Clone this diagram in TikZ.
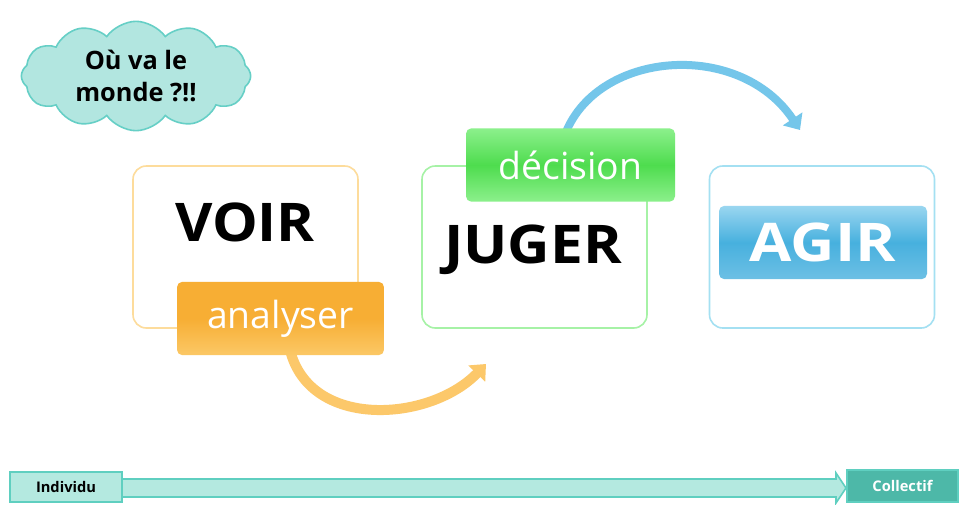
\documentclass[tikz,border=0pt]{standalone}
\usepackage{fontspec}
\setmainfont{Open Sans}
\usetikzlibrary{shapes.symbols,arrows.meta,shadings}
\definecolor{cloudfill}{HTML}{B2E6E0}
\definecolor{clouddraw}{HTML}{66CFC6}
\definecolor{orborder}{HTML}{FDDC9C}
\definecolor{orA}{HTML}{F7AE34}
\definecolor{orB}{HTML}{FBC866}
\definecolor{orArrow}{HTML}{FCC86A}
\definecolor{grborder}{HTML}{A6F2A6}
\definecolor{grA}{HTML}{4EDC4E}
\definecolor{grB}{HTML}{8CF08C}
\definecolor{blborder}{HTML}{A4E0F2}
\definecolor{blA}{HTML}{47B0DE}
\definecolor{blB}{HTML}{9AD6F0}
\definecolor{blArrow}{HTML}{74C6EA}
\definecolor{tealA}{HTML}{5FCFC0}
\definecolor{tealL}{HTML}{B4E9E0}
\definecolor{tealD}{HTML}{4DB8A8}
\tikzset{
  x=0.75pt, y=-0.75pt,
  bigbox/.style={draw, line width=1.2pt, rounded corners=10pt, minimum width=168.75pt, minimum height=121.5pt, inner sep=0pt, fill=white},
  tagbox/.style={rounded corners=4pt, minimum height=55pt, inner sep=0pt, text=white, font=\fontsize{28}{32}\selectfont},
  bigword/.style={font=\bfseries\fontsize{40}{44}\selectfont, inner sep=0pt},
  barbox/.style={draw=tealA, line width=1.2pt, inner sep=0pt, minimum width=84pt, minimum height=22.5pt, font=\bfseries\fontsize{11}{13}\selectfont},
  curvearrow/.style={line width=#1, -{Triangle[length=10pt, width=17pt]}},
}
\begin{document}
\begin{tikzpicture}
\useasboundingbox (0,0) rectangle (967,504);
\fill[white] (0,0) rectangle (967,504);

% cloud
\node[cloud, cloud puffs=12, cloud puff arc=110, aspect=2.1, draw=clouddraw, line width=1.2pt, fill=cloudfill,
      minimum width=172pt, minimum height=82pt, inner sep=0pt, align=center,
      font=\bfseries\fontsize{19}{24}\selectfont] (cloud) at (136,76) {Où va le\\monde ?!!};

% boxes
\node[bigbox, draw=orborder] (voir) at (245.5,247) {};
\node[bigbox, draw=grborder] (juger) at (534.5,247) {};
\node[bigbox, draw=blborder] (agir) at (822,247) {};

\node[bigword] (voirtxt) at (245,222) {\scalebox{1.08}[1]{VOIR}};
\node[bigword] (jugertxt) at (533,250) {\scalebox{1.1}[1]{JUGER}};

% orange arrow
\coordinate (oStart) at (290,350);
\coordinate (oEnd) at (486,364);
\draw[curvearrow=7.5pt, orArrow] (oStart) .. controls (310,430) and (430,422) .. (oEnd);

% blue arrow
\coordinate (bStart) at (566,132);
\coordinate (bEnd) at (800,130);
\draw[curvearrow=6pt, blArrow] (bStart) .. controls (600,50) and (740,40) .. (bEnd);

% tags
\node[tagbox, minimum width=155.25pt, top color=orA, bottom color=orB, middle color=orA] (analyser) at (280.5,318.5) {analyser};
\node[tagbox, minimum width=156.75pt, top color=grB, bottom color=grB, middle color=grA] (decision) at (570.5,165) {décision};
\node[tagbox, minimum width=156pt, top color=blB, bottom color=blA!80, middle color=blA, font=\bfseries\fontsize{40}{44}\selectfont] (agirtag) at (823,242.5) {\scalebox{1.15}[1]{AGIR}};

% bottom bar
\node[barbox, fill=tealL] (indiv) at (66,487) {Individu};
\node[barbox, fill=tealD, text=white, minimum width=83.25pt, minimum height=24pt] (coll) at (902.5,486) {Collectif};
\coordinate (shaftTop) at (122,479);
\coordinate (shaftBot) at (122,497);
\coordinate (tip) at (846,488);
\filldraw[fill=tealL, draw=tealA, line width=1.2pt]
  (shaftTop) -- (836,479) -- (836,473) -- (tip) -- (836,503) -- (836,497) -- (shaftBot) -- cycle;
\end{tikzpicture}
\end{document}
